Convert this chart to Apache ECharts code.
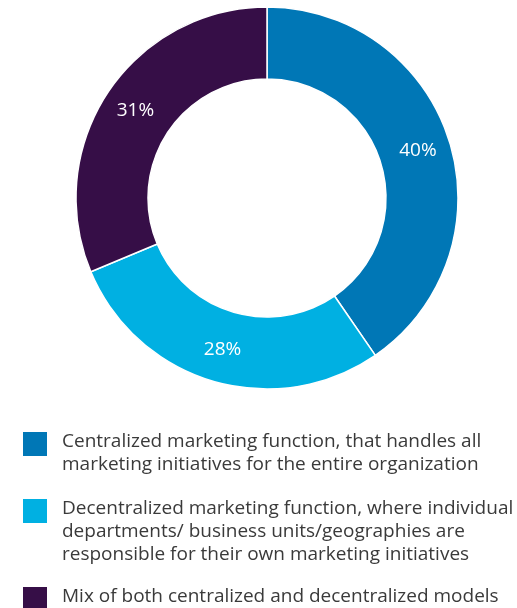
<!DOCTYPE html>
<html>
<head>
<meta charset="utf-8">
<script src="https://cdn.jsdelivr.net/npm/echarts@6/dist/echarts.min.js"></script>
<style>
  html, body { margin: 0; padding: 0; background: #fff; }
  #chart { width: 517px; height: 608px; }
</style>
</head>
<body>
<div id="chart"></div>
<script>
// data
const categories = [
  'Centralized marketing function, that handles all\nmarketing initiatives for the entire organization',
  'Decentralized marketing function, where individual\ndepartments/ business units/geographies are\nresponsible for their own marketing initiatives',
  'Mix of both centralized and decentralized models'
]
const values = [40, 28, 31]
const colors = ['#0077b6', '#00b0e2', '#360e47']

// legend layout (top of each swatch)
const legendTops = [432, 499, 587]

const chart = echarts.init(document.getElementById('chart'))

const legendGraphics = []
categories.forEach((name, i) => {
  legendGraphics.push({
    type: 'rect',
    left: 23,
    top: legendTops[i],
    shape: { width: 24, height: 24 },
    style: { fill: colors[i] }
  })
  legendGraphics.push({
    type: 'text',
    left: 62,
    top: legendTops[i] - 2,
    style: {
      text: name,
      fill: '#3a3a3a',
      font: '19px "Open Sans"',
      lineHeight: 23
    }
  })
})

const option = {
  animation: false,
  color: colors,
  series: [{
    type: 'pie',
    center: [267, 198],
    radius: [119, 191],
    startAngle: 90,
    clockwise: true,
    data: categories.map((name, i) => ({ name, value: values[i] })),
    itemStyle: { borderColor: '#fff', borderWidth: 1.5 },
    label: {
      show: true,
      position: 'inside',
      formatter: '{c}%',
      color: '#fff',
      fontFamily: 'Open Sans',
      fontSize: 19
    },
    labelLine: { show: false },
    emphasis: { disabled: true }
  }],
  graphic: legendGraphics
}

chart.setOption(option)
</script>
</body>
</html>
